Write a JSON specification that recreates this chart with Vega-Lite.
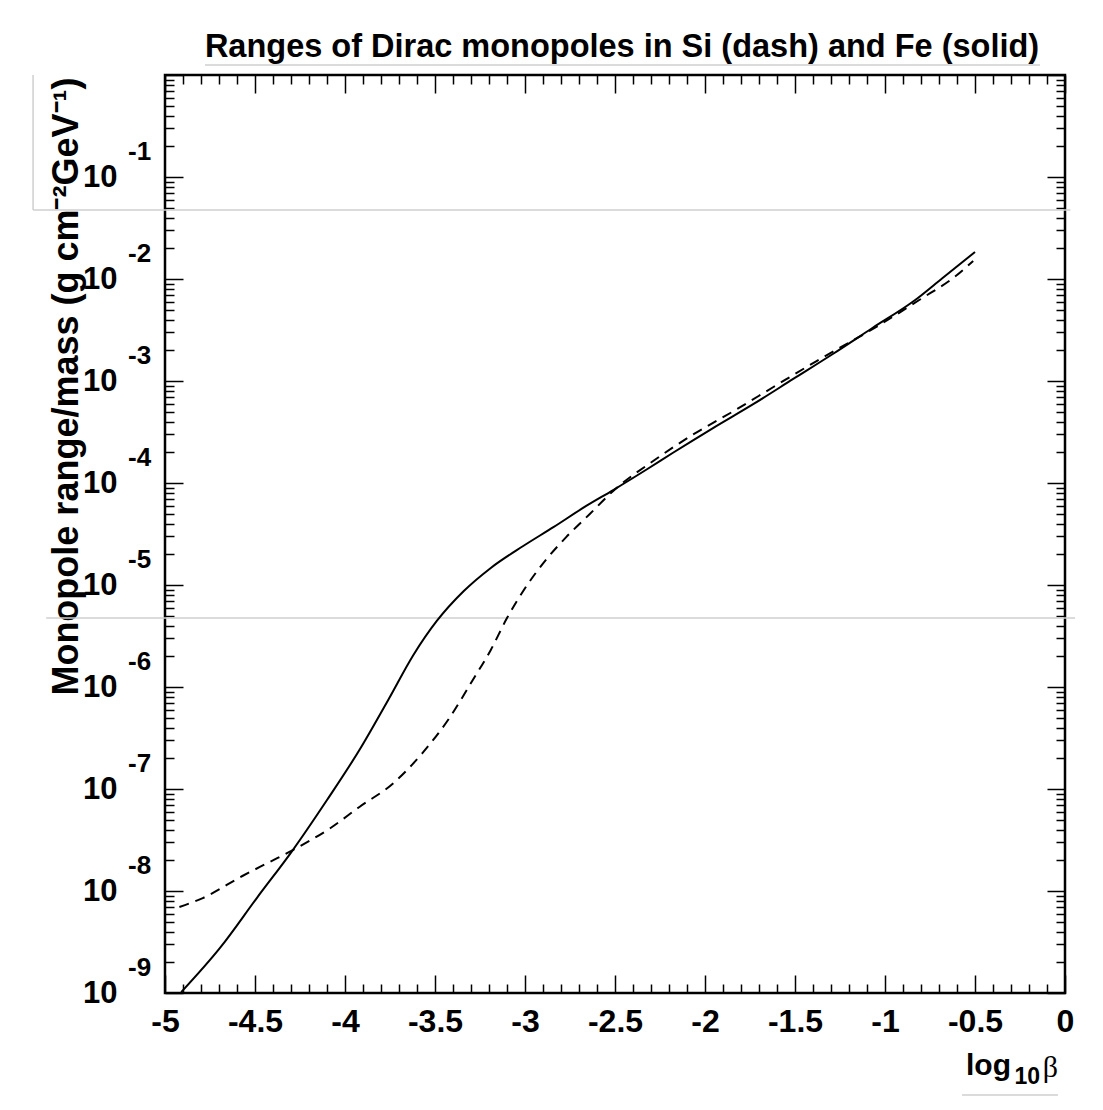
{
  "$schema": "https://vega.github.io/schema/vega-lite/v6.json",
  "autosize": {"type": "none"},
  "padding": {"left": 165, "top": 75, "right": 38, "bottom": 117},
  "width": 900,
  "height": 918,
  "background": "white",
  "config": {
    "view": {"stroke": "black", "strokeWidth": 2.5},
    "font": "Liberation Sans",
    "axis": {"grid": false, "domain": false, "tickColor": "black", "tickWidth": 1.5, "labelColor": "black", "titleColor": "black"}
  },
  "title": {
    "text": "Ranges of Dirac monopoles in Si (dash) and Fe (solid)",
    "font": "Liberation Sans",
    "fontSize": 32.5,
    "fontWeight": "bold",
    "color": "black",
    "anchor": "middle",
    "baseline": "alphabetic",
    "offset": 14,
    "dx": 7,
    "dy": 44
  },
  "datasets": {
    "fe": [
      {"beta": -4.91, "range": 1.02e-9},
      {"beta": -4.69, "range": 2.83e-9},
      {"beta": -4.49, "range": 8.53e-9},
      {"beta": -4.29, "range": 2.52e-8},
      {"beta": -4.10, "range": 7.80e-8},
      {"beta": -3.92, "range": 2.41e-7},
      {"beta": -3.76, "range": 7.46e-7},
      {"beta": -3.62, "range": 2.06e-6},
      {"beta": -3.49, "range": 4.44e-6},
      {"beta": -3.34, "range": 8.73e-6},
      {"beta": -3.19, "range": 1.47e-5},
      {"beta": -3.01, "range": 2.41e-5},
      {"beta": -2.84, "range": 3.71e-5},
      {"beta": -2.66, "range": 5.96e-5},
      {"beta": -2.51, "range": 8.53e-5},
      {"beta": -2.32, "range": 1.371e-4},
      {"beta": -2.18, "range": 1.968e-4},
      {"beta": -1.96, "range": 3.42e-4},
      {"beta": -1.73, "range": 5.96e-4},
      {"beta": -1.51, "range": 1.047e-3},
      {"beta": -1.29, "range": 1.84e-3},
      {"beta": -1.07, "range": 3.31e-3},
      {"beta": -0.84, "range": 6.08e-3},
      {"beta": -0.68, "range": 1.023e-2},
      {"beta": -0.50, "range": 1.84e-2}
    ],
    "si": [
      {"beta": -4.92, "range": 6.97e-9},
      {"beta": -4.79, "range": 8.53e-9},
      {"beta": -4.57, "range": 1.403e-8},
      {"beta": -4.42, "range": 1.92e-8},
      {"beta": -4.29, "range": 2.52e-8},
      {"beta": -4.08, "range": 4.15e-8},
      {"beta": -3.92, "range": 6.67e-8},
      {"beta": -3.73, "range": 1.146e-7},
      {"beta": -3.57, "range": 2.25e-7},
      {"beta": -3.42, "range": 4.97e-7},
      {"beta": -3.29, "range": 1.172e-6},
      {"beta": -3.19, "range": 2.31e-6},
      {"beta": -3.10, "range": 4.74e-6},
      {"beta": -3.01, "range": 8.73e-6},
      {"beta": -2.88, "range": 1.80e-5},
      {"beta": -2.77, "range": 2.96e-5},
      {"beta": -2.64, "range": 4.97e-5},
      {"beta": -2.51, "range": 8.36e-5},
      {"beta": -2.28, "range": 1.68e-4},
      {"beta": -2.07, "range": 2.96e-4},
      {"beta": -1.84, "range": 5.08e-4},
      {"beta": -1.62, "range": 8.73e-4},
      {"beta": -1.38, "range": 1.57e-3},
      {"beta": -1.04, "range": 3.46e-3},
      {"beta": -0.81, "range": 6.22e-3},
      {"beta": -0.60, "range": 1.094e-2},
      {"beta": -0.51, "range": 1.50e-2}
    ],
    "decades": [
      {"value": 1e-1, "exp": "-1"},
      {"value": 1e-2, "exp": "-2"},
      {"value": 1e-3, "exp": "-3"},
      {"value": 1e-4, "exp": "-4"},
      {"value": 1e-5, "exp": "-5"},
      {"value": 1e-6, "exp": "-6"},
      {"value": 1e-7, "exp": "-7"},
      {"value": 1e-8, "exp": "-8"},
      {"value": 1e-9, "exp": "-9"}
    ],
    "pageLines": [
      {"x": -5.733, "x2": 0.03, "y": 0.0474, "y2": 0.0474},
      {"x": -5.733, "x2": -5.733, "y": 1, "y2": 0.0474},
      {"x": -5.66, "x2": 0.056, "y": 4.74e-6, "y2": 4.74e-6},
      {"x": -4.778, "x2": -0.139, "y": 1.253, "y2": 1.253},
      {"x": -0.572, "x2": -0.039, "y": 1e-10, "y2": 1e-10}
    ]
  },
  "layer": [
    {
      "data": {"name": "pageLines"},
      "mark": {"type": "rule", "color": "#cfcfcf", "strokeWidth": 1.5, "clip": false},
      "encoding": {
        "x": {"field": "x", "type": "quantitative", "scale": {"domain": [-5, 0], "nice": false, "zero": false}, "axis": null},
        "x2": {"field": "x2"},
        "y": {"field": "y", "type": "quantitative", "scale": {"type": "log", "domain": [1e-9, 1], "nice": false}, "axis": null},
        "y2": {"field": "y2"}
      }
    },
    {
      "data": {"name": "fe"},
      "mark": {"type": "line", "color": "black", "strokeWidth": 2, "interpolate": "monotone"},
      "encoding": {
        "x": {
          "field": "beta", "type": "quantitative",
          "scale": {"domain": [-5, 0], "nice": false, "zero": false},
          "axis": {
            "orient": "bottom",
            "values": [-5, -4.9, -4.8, -4.7, -4.6, -4.5, -4.4, -4.3, -4.2, -4.1, -4, -3.9, -3.8, -3.7, -3.6, -3.5, -3.4, -3.3, -3.2, -3.1, -3, -2.9, -2.8, -2.7, -2.6, -2.5, -2.4, -2.3, -2.2, -2.1, -2, -1.9, -1.8, -1.7, -1.6, -1.5, -1.4, -1.3, -1.2, -1.1, -1, -0.9, -0.8, -0.7, -0.6, -0.5, -0.4, -0.3, -0.2, -0.1, 0],
            "tickSize": {"condition": {"test": "(datum.value * 2) % 1 == 0", "value": -18}, "value": -9},
            "labelExpr": "(datum.value * 2) % 1 == 0 ? '' + datum.value : ''",
            "labelFont": "Liberation Sans",
            "labelFontSize": 32,
            "labelFontWeight": "bold",
            "labelPadding": 31,
            "labelOverlap": false,
            "labelFlush": false,
            "labelBound": false,
            "title": null
          }
        },
        "y": {
          "field": "range", "type": "quantitative",
          "scale": {"type": "log", "domain": [1e-9, 1], "nice": false},
          "axis": {
            "orient": "left",
            "values": [1e-9, 2e-9, 3e-9, 4e-9, 5e-9, 6e-9, 7e-9, 8e-9, 9e-9, 1e-8, 2e-8, 3e-8, 4e-8, 5e-8, 6e-8, 7e-8, 8e-8, 9e-8, 1e-7, 2e-7, 3e-7, 4e-7, 5e-7, 6e-7, 7e-7, 8e-7, 9e-7, 1e-6, 2e-6, 3e-6, 4e-6, 5e-6, 6e-6, 7e-6, 8e-6, 9e-6, 1e-5, 2e-5, 3e-5, 4e-5, 5e-5, 6e-5, 7e-5, 8e-5, 9e-5, 1e-4, 2e-4, 3e-4, 4e-4, 5e-4, 6e-4, 7e-4, 8e-4, 9e-4, 1e-3, 2e-3, 3e-3, 4e-3, 5e-3, 6e-3, 7e-3, 8e-3, 9e-3, 1e-2, 2e-2, 3e-2, 4e-2, 5e-2, 6e-2, 7e-2, 8e-2, 9e-2, 1e-1, 2e-1, 3e-1, 4e-1, 5e-1, 6e-1, 7e-1, 8e-1, 9e-1, 1],
            "tickSize": {"condition": {"test": "abs(log(datum.value) / LN10 - round(log(datum.value) / LN10)) < 0.001", "value": -18}, "value": -9},
            "labelExpr": "datum.value < 0.5 && abs(log(datum.value) / LN10 - round(log(datum.value) / LN10)) < 0.001 ? '10' : ''",
            "labelFont": "Liberation Sans",
            "labelFontSize": 31,
            "labelFontWeight": "bold",
            "labelPadding": 66,
            "labelBaseline": "middle",
            "labelOverlap": false,
            "labelFlush": false,
            "labelBound": false,
            "title": "Monopole range/mass (g cm⁻²GeV⁻¹)",
            "titleFont": "Liberation Sans",
            "titleFontSize": 36,
            "titleFontWeight": "bold",
            "titleAngle": -90,
            "titleAlign": "right",
            "titleBaseline": "alphabetic",
            "titleX": -88,
            "titleY": 2
          }
        }
      }
    },
    {
      "data": {"name": "si"},
      "mark": {"type": "line", "color": "black", "strokeWidth": 2, "strokeDash": [10, 7], "interpolate": "monotone"},
      "encoding": {
        "x": {
          "field": "beta", "type": "quantitative",
          "scale": {"domain": [-5, 0], "nice": false, "zero": false},
          "axis": {
            "orient": "top",
            "values": [-5, -4.9, -4.8, -4.7, -4.6, -4.5, -4.4, -4.3, -4.2, -4.1, -4, -3.9, -3.8, -3.7, -3.6, -3.5, -3.4, -3.3, -3.2, -3.1, -3, -2.9, -2.8, -2.7, -2.6, -2.5, -2.4, -2.3, -2.2, -2.1, -2, -1.9, -1.8, -1.7, -1.6, -1.5, -1.4, -1.3, -1.2, -1.1, -1, -0.9, -0.8, -0.7, -0.6, -0.5, -0.4, -0.3, -0.2, -0.1, 0],
            "tickSize": {"condition": {"test": "(datum.value * 2) % 1 == 0", "value": -18}, "value": -9},
            "labels": false,
            "title": null
          }
        },
        "y": {
          "field": "range", "type": "quantitative",
          "scale": {"type": "log", "domain": [1e-9, 1], "nice": false},
          "axis": {
            "orient": "right",
            "values": [1e-9, 2e-9, 3e-9, 4e-9, 5e-9, 6e-9, 7e-9, 8e-9, 9e-9, 1e-8, 2e-8, 3e-8, 4e-8, 5e-8, 6e-8, 7e-8, 8e-8, 9e-8, 1e-7, 2e-7, 3e-7, 4e-7, 5e-7, 6e-7, 7e-7, 8e-7, 9e-7, 1e-6, 2e-6, 3e-6, 4e-6, 5e-6, 6e-6, 7e-6, 8e-6, 9e-6, 1e-5, 2e-5, 3e-5, 4e-5, 5e-5, 6e-5, 7e-5, 8e-5, 9e-5, 1e-4, 2e-4, 3e-4, 4e-4, 5e-4, 6e-4, 7e-4, 8e-4, 9e-4, 1e-3, 2e-3, 3e-3, 4e-3, 5e-3, 6e-3, 7e-3, 8e-3, 9e-3, 1e-2, 2e-2, 3e-2, 4e-2, 5e-2, 6e-2, 7e-2, 8e-2, 9e-2, 1e-1, 2e-1, 3e-1, 4e-1, 5e-1, 6e-1, 7e-1, 8e-1, 9e-1, 1],
            "tickSize": {"condition": {"test": "abs(log(datum.value) / LN10 - round(log(datum.value) / LN10)) < 0.001", "value": -18}, "value": -9},
            "labels": false,
            "title": null
          }
        }
      }
    },
    {
      "data": {"name": "decades"},
      "mark": {"type": "text", "align": "left", "baseline": "middle", "dx": -37, "dy": -25, "font": "Liberation Sans", "fontSize": 26, "fontWeight": "bold", "color": "black", "clip": false},
      "encoding": {
        "x": {"datum": -5, "type": "quantitative", "scale": {"domain": [-5, 0], "nice": false, "zero": false}, "axis": null},
        "y": {"field": "value", "type": "quantitative", "scale": {"type": "log", "domain": [1e-9, 1], "nice": false}, "axis": null},
        "text": {"field": "exp"}
      }
    },
    {
      "data": {"values": [{}]},
      "mark": {"type": "text", "text": "log", "align": "right", "baseline": "alphabetic", "dx": -54, "dy": 82, "font": "Liberation Sans", "fontSize": 30, "fontWeight": "bold", "color": "black", "clip": false},
      "encoding": {
        "x": {"datum": 0, "type": "quantitative", "scale": {"domain": [-5, 0], "nice": false, "zero": false}, "axis": null},
        "y": {"datum": 1e-9, "type": "quantitative", "scale": {"type": "log", "domain": [1e-9, 1], "nice": false}, "axis": null}
      }
    },
    {
      "data": {"values": [{}]},
      "mark": {"type": "text", "text": "10", "align": "right", "baseline": "alphabetic", "dx": -25, "dy": 91, "font": "Liberation Sans", "fontSize": 23, "fontWeight": "bold", "color": "black", "clip": false},
      "encoding": {
        "x": {"datum": 0, "type": "quantitative", "scale": {"domain": [-5, 0], "nice": false, "zero": false}, "axis": null},
        "y": {"datum": 1e-9, "type": "quantitative", "scale": {"type": "log", "domain": [1e-9, 1], "nice": false}, "axis": null}
      }
    },
    {
      "data": {"values": [{}]},
      "mark": {"type": "text", "text": "β", "align": "right", "baseline": "alphabetic", "dx": -7, "dy": 84, "font": "Liberation Serif", "fontSize": 30, "color": "black", "clip": false},
      "encoding": {
        "x": {"datum": 0, "type": "quantitative", "scale": {"domain": [-5, 0], "nice": false, "zero": false}, "axis": null},
        "y": {"datum": 1e-9, "type": "quantitative", "scale": {"type": "log", "domain": [1e-9, 1], "nice": false}, "axis": null}
      }
    }
  ],
  "resolve": {"axis": {"x": "independent", "y": "independent"}}
}
